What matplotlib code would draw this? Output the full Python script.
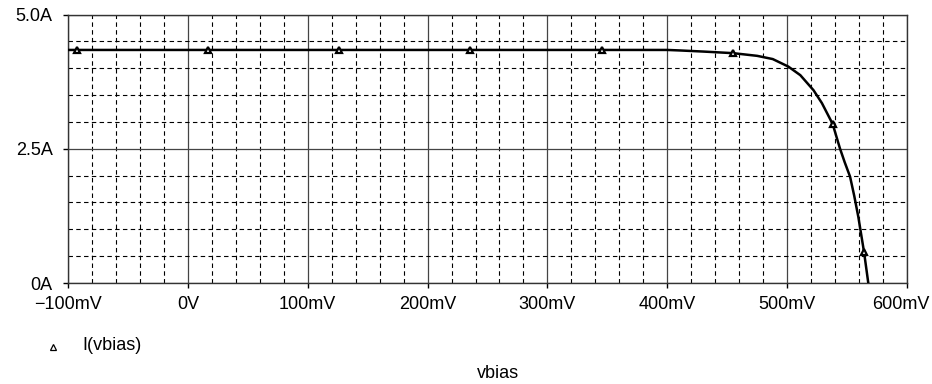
import numpy as np
import matplotlib.pyplot as plt
import matplotlib.transforms as mtransforms
from matplotlib.lines import Line2D
from matplotlib.ticker import MultipleLocator

plt.rcParams['font.family'] = ['Liberation Sans', 'DejaVu Sans']

# I(vbias), vbias in mV, current in A
vbias_mv = [-100, 0, 100, 200, 300, 377, 400, 411, 430, 455, 475, 488, 501,
            511, 522, 529, 538, 544, 548, 552.5, 556, 559.4, 564.2, 567.7]
current_a = [4.34, 4.34, 4.34, 4.34, 4.34, 4.34, 4.34, 4.33, 4.31, 4.28, 4.23,
             4.17, 4.03, 3.87, 3.59, 3.35, 2.96, 2.51, 2.25, 1.98, 1.62,
             1.23, 0.57, 0.0]

# triangle markers along the trace
marker_mv = [-92.5, 16.8, 126.5, 235.8, 345.2, 454.8, 538, 564.2]
marker_a = [4.34, 4.34, 4.34, 4.34, 4.34, 4.28, 2.96, 0.57]

x_ticks = [-100, 0, 100, 200, 300, 400, 500, 600]
x_tick_labels = ['\u2212100mV', '0V', '100mV', '200mV', '300mV', '400mV', '500mV', '600mV']
y_ticks = [0, 2.5, 5.0]
y_tick_labels = ['0A', '2.5A', '5.0A']

fig = plt.figure(figsize=(9.32, 3.84), dpi=100)
ax = fig.add_axes([68 / 932, 1 - 283 / 384, 839 / 932, 268.5 / 384])

ax.set_xlim(-100, 600)
ax.set_ylim(0, 5)

# minor dashed grid, major solid grid
ax.xaxis.set_minor_locator(MultipleLocator(20))
ax.yaxis.set_minor_locator(MultipleLocator(0.5))
ax.grid(which='minor', color='black', linestyle=(0, (4, 3)), linewidth=0.8)
ax.grid(which='major', color='#444444', linestyle='-', linewidth=0.9)
ax.tick_params(which='minor', length=0)

ax.set_xticks(x_ticks)
ax.set_xticklabels(x_tick_labels)
ax.set_yticks(y_ticks)
ax.set_yticklabels(y_tick_labels)
ax.tick_params(which='major', direction='out', length=3.6, width=1, labelsize=13)
ax.tick_params(axis='x', pad=5.5)
ax.tick_params(axis='y', pad=7.5)

# last label sits against the right edge, nudge it in a little
last = ax.get_xticklabels()[-1]
last.set_transform(last.get_transform() + mtransforms.ScaledTranslation(-6 / 100, 0, fig.dpi_scale_trans))

for sp in ax.spines.values():
    sp.set_linewidth(1)
    sp.set_color('#333333')

ax.plot(vbias_mv, current_a, color='black', linewidth=1.8, zorder=3)
ax.plot(marker_mv, marker_a, linestyle='none', marker='^', markersize=5,
        markerfacecolor='white', markeredgecolor='black', markeredgewidth=1.6, zorder=4)

# legend entry below the axis
fig.add_artist(Line2D([53 / 932], [1 - 347 / 384], marker='^', markersize=5,
                      markerfacecolor='none', markeredgecolor='black',
                      markeredgewidth=0.9, linestyle='none', transform=fig.transFigure))
fig.text(82 / 932, 1 - 345 / 384, 'I(vbias)', fontsize=13, va='center', ha='left')

fig.text(498 / 932, 1 - 373 / 384, 'vbias', fontsize=13, va='center', ha='center')

fig.savefig('out.png', dpi=100)
